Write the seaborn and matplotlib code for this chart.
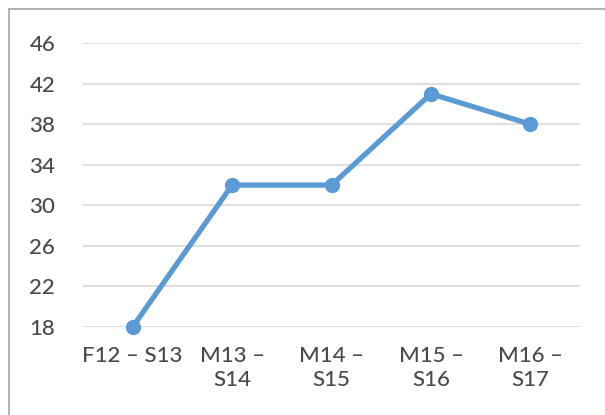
import matplotlib
matplotlib.use("Agg")
import matplotlib.pyplot as plt
import pandas as pd
import seaborn as sns
from matplotlib.lines import Line2D

# data
periods = ['F12 – S13', 'M13 –\nS14', 'M14 –\nS15', 'M15 –\nS16', 'M16 –\nS17']
values = [18, 32, 32, 41, 38]
y_ticks = [18, 22, 26, 30, 34, 38, 42, 46]

df = pd.DataFrame({'period': periods, 'value': values})

sns.set_style('white')
plt.rcParams['font.family'] = ['Lato', 'DejaVu Sans']

text_col = '#4A4A4A'
line_col = '#5B9BD5'

fig = plt.figure(figsize=(6.05, 4.15), dpi=100)
ax = fig.add_axes([0.137, 0.212, 0.822, 0.684])

sns.lineplot(data=df, x='period', y='value', ax=ax, sort=False,
             color=line_col, linewidth=3.8, marker='o', markersize=11,
             markeredgewidth=0, clip_on=False)

ax.set_xlim(-0.5, 4.5)
ax.set_ylim(18, 46)
ax.set_yticks(y_ticks)
ax.yaxis.grid(True, color='#D9D9D9', linewidth=1.2)
ax.set_axisbelow(True)
for s in ax.spines.values():
    s.set_visible(False)
ax.set_xlabel('')
ax.set_ylabel('')
ax.tick_params(axis='both', length=0, labelsize=16, colors=text_col)
ax.tick_params(axis='y', pad=20)
ax.tick_params(axis='x', pad=14)
for lbl in ax.get_xticklabels() + ax.get_yticklabels():
    lbl.set_linespacing(1.25)
    lbl.set_fontweight('medium')

# chart frame (top and left edges visible)
w, h = 605, 415
fig.add_artist(Line2D([9 / w, 9 / w], [0, 1 - 9 / h], transform=fig.transFigure,
                      color='#A6A6A6', linewidth=1.2))
fig.add_artist(Line2D([9 / w, 1], [1 - 9 / h, 1 - 9 / h], transform=fig.transFigure,
                      color='#A6A6A6', linewidth=1.2))

fig.savefig('out.png', dpi=100)
